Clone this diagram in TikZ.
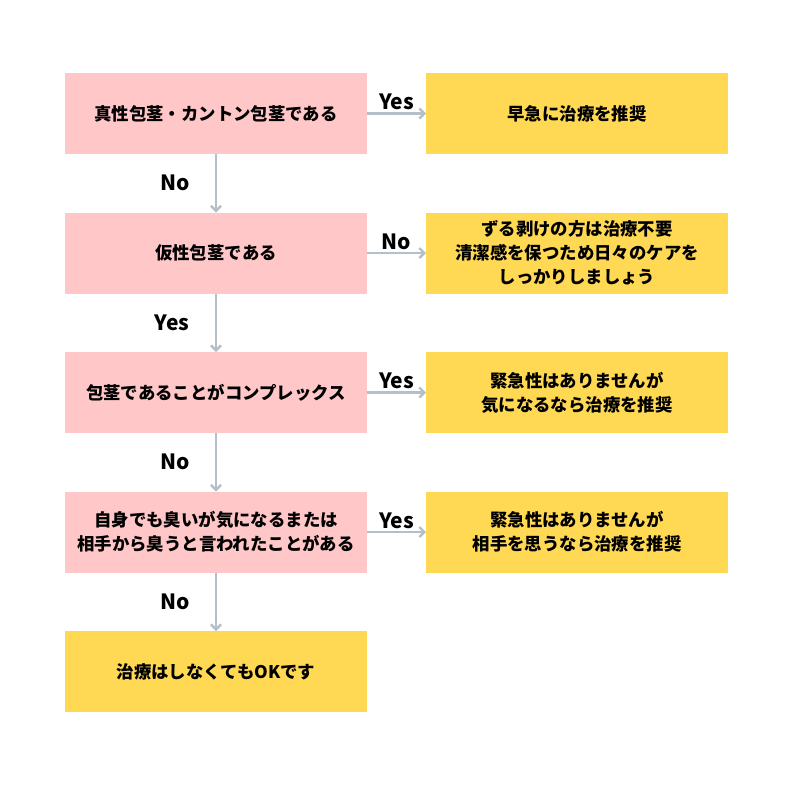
\documentclass[tikz,border=0pt]{standalone}
\usepackage{fontspec}
\setmainfont{Noto Sans CJK JP}
\usetikzlibrary{positioning,arrows.meta}
\definecolor{qpink}{HTML}{FFC7C8}
\definecolor{ayellow}{HTML}{FFD953}
\definecolor{arrowgray}{HTML}{B4BFC8}

\begin{document}
\begin{tikzpicture}[x=1pt,y=1pt,->,>={Straight Barb[length=5pt,width=10pt]},line width=2.4pt,draw=arrowgray]
\tikzstyle{question} = [rectangle, fill=qpink, text=black, outer sep=0pt, minimum width=302pt, minimum height=81pt, align=center, font=\bfseries\fontsize{17.4}{24}\selectfont, node distance = 58.5pt and 59pt]
\tikzstyle{answer} = [question, fill=ayellow]
\tikzstyle{choice} = [text=black, font=\bfseries\fontsize{21}{24}\selectfont]

\useasboundingbox[fill=white] (0,0) rectangle (800,-785);

\node[question] (Q1) at (216,-113.5) {真性包茎・カントン包茎である};
\node[question] (Q2) [below = of Q1] {仮性包茎である};
\node[question] (Q3) [below = of Q2] {包茎であることがコンプレックス};
\node[question] (Q4) [below = of Q3] {自身でも臭いが気になるまたは\\相手から臭うと言われたことがある};
\node[answer]   (Q5) [below = of Q4] {治療はしなくてもOKです};

\node[answer] (A1) [right = of Q1] {早急に治療を推奨};
\node[answer] (A2) [right = of Q2] {ずる剥けの方は治療不要\\清潔感を保つため日々のケアを\\しっかりしましょう};
\node[answer] (A3) [right = of Q3] {緊急性はありませんが\\気になるなら治療を推奨};
\node[answer] (A4) [right = of Q4] {緊急性はありませんが\\相手を思うなら治療を推奨};

% horizontal arrows
\foreach \c/\t in {1/Yes,2/No,3/Yes,4/Yes}
{
   \path (Q\c.east) edge node[choice, above=-1pt] {\t} (A\c.west);
}
% vertical arrows
\foreach \c/\t in {1/No,2/Yes,3/No,4/No}
{
   \path (Q\c.south) edge node[choice, left=22pt] {\t} (Q\the\numexpr \c + 1\relax.north);
}

\end{tikzpicture}
\end{document}
